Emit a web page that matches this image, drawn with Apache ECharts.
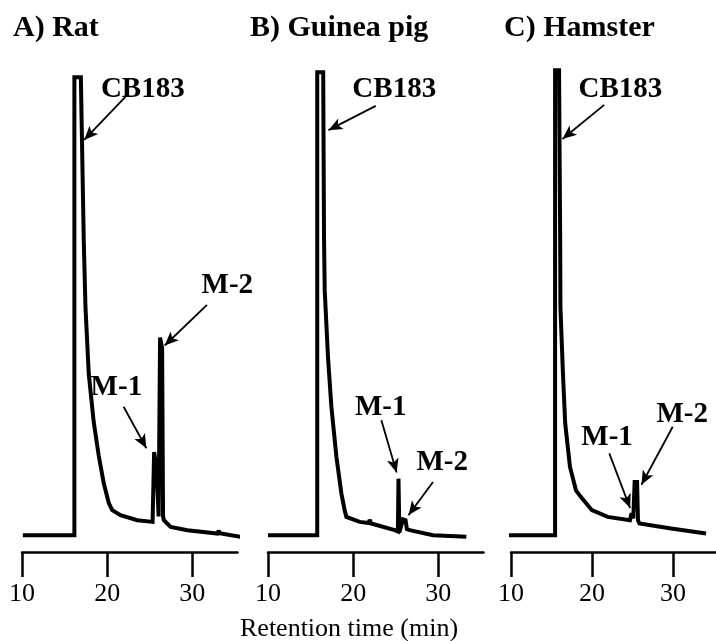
<!DOCTYPE html>
<html>
<head>
<meta charset="utf-8">
<script src="https://cdn.jsdelivr.net/npm/echarts@6/dist/echarts.min.js"></script>
<style>
    html, body { margin: 0; padding: 0; background: #fff; }
    #chart { width: 716px; height: 641px; }
</style>
</head>
<body>
<div id="chart"></div>
<script>
// x axis ticks and panel captions
var tickValues = [10, 20, 30];
var panelTitles = ['A) Rat', 'B) Guinea pig', 'C) Hamster'];
var axisTitle = 'Retention time (min)';

// A) Rat trace (retention time, detector signal; 100 = off scale)
var ratTime = [10.1, 16.15, 16.15, 16.91, 17.25, 17.45, 17.84, 18.42, 19.01, 19.6, 20.19, 20.59, 21.56, 23.53, 25.33,
    25.51, 25.8, 26.04, 26.21, 26.45, 26.56, 26.66, 27.45, 29.41, 32.94, 33.1, 33.2, 35.7];
var ratSignal = [0, 0, 98, 98, 63.1, 48.9, 34.5, 24.2, 17.0, 11.1, 6.85, 5.35, 4.28, 3.21, 2.85,
    17.8, 14.0, 4.0, 42.3, 40.0, 4.0, 3.2, 1.78, 1.07, 0.36, 1.0, 0.4, -0.36];

// B) Guinea pig trace
var pigTime = [10.0, 15.78, 15.78, 16.48, 16.58, 16.66, 17.04, 17.44, 18.03, 18.62, 19.0, 19.2, 20.77, 21.82, 21.94,
    22.12, 24.88, 25.25, 25.32, 25.42, 25.55, 25.85, 26.15, 26.3, 26.64, 29.37, 33.29];
var pigSignal = [0, 0, 99.1, 99.1, 63.1, 52.4, 38.2, 27.5, 16.8, 8.9, 5.35, 3.92, 2.85, 2.6, 3.3,
    2.5, 1.07, 0.8, 12.1, 0.6, 0.5, 3.4, 3.2, 1.3, 1.07, 0, -0.36];

// C) Hamster trace
var hamTime = [9.33, 15.44, 15.44, 15.93, 16.07, 16.1, 16.41, 16.69, 17.28, 18.02, 18.61, 19.98, 21.94, 24.68, 24.88,
    25.09, 25.26, 25.56, 25.67, 25.85, 29.76, 34.07];
var hamSignal = [0, 0, 99.5, 99.5, 63.1, 48.9, 34.6, 23.9, 14.6, 9.6, 8.2, 5.35, 3.92, 3.2, 4.7,
    3.6, 11.4, 11.4, 3.2, 2.5, 1.43, 0.36];

// peak labels: [text, label t, label v, arrow start t, v, arrow tip t, v]
var ratNotes = [
    ['CB183', 24.18, 95.3, 22.14, 93.8, 17.3, 84.6],
    ['M-1', 21.08, 31.7, 21.93, 27.5, 24.6, 18.6],
    ['M-2', 34.1, 53.5, 31.72, 49.3, 26.75, 40.6]
];
var pigNotes = [
    ['CB183', 24.82, 95.3, 22.65, 91.9, 17.1, 86.7],
    ['M-1', 23.23, 27.4, 23.31, 24.6, 25.1, 13.4],
    ['M-2', 30.45, 15.5, 29.37, 11.4, 26.5, 4.3]
];
var hamNotes = [
    ['CB183', 23.5, 95.3, 21.51, 92.1, 16.35, 84.8],
    ['M-1', 21.86, 21.0, 22.13, 17.5, 24.7, 5.8],
    ['M-2', 31.13, 25.9, 29.96, 23.2, 26.1, 10.8]
];

var serif = 'Liberation Serif';
var gridLefts = [22, 268, 511];
var traces = [[ratTime, ratSignal], [pigTime, pigSignal], [hamTime, hamSignal]];
var notes = [ratNotes, pigNotes, hamNotes];

var grids = [], xAxes = [], yAxes = [], series = [];
var titles = [];
var titleLefts = [13, 250, 504];

for (var p = 0; p < 3; p++) {
    grids.push({ left: gridLefts[p], top: 68, width: 215.5, height: 484 });
    xAxes.push({
        type: 'value',
        gridIndex: p,
        min: 10,
        max: 35.3,
        axisLine: { show: true, onZero: false, lineStyle: { color: '#000', width: 2.5 } },
        axisTick: { show: true, length: 25, customValues: tickValues, lineStyle: { color: '#000', width: 2.5 } },
        axisLabel: { customValues: tickValues, margin: 29, color: '#000', fontSize: 26, fontFamily: serif },
        splitLine: { show: false }
    });
    yAxes.push({ type: 'value', gridIndex: p, min: -3.6, max: 100, show: false });
    titles.push({
        text: panelTitles[p],
        left: titleLefts[p],
        top: 13,
        padding: 0,
        textStyle: { color: '#000', fontSize: 30, fontWeight: 'bold', fontFamily: serif }
    });

    var t = traces[p][0], s = traces[p][1];
    series.push({
        type: 'line',
        xAxisIndex: p,
        yAxisIndex: p,
        data: t.map(function (x, i) { return [x, s[i]]; }),
        symbol: 'none',
        clip: false,
        silent: true,
        lineStyle: { color: '#000', width: 4, join: 'miter', miterLimit: 2 },
        markLine: {
            silent: true,
            symbol: ['none', 'arrow'],
            symbolSize: [9, 14],
            label: { show: false },
            lineStyle: { color: '#000', width: 1.8, type: 'solid' },
            data: notes[p].map(function (n) {
                return [{ coord: [n[3], n[4]] }, { coord: [n[5], n[6]] }];
            })
        },
        markPoint: {
            silent: true,
            symbol: 'rect',
            symbolSize: 1,
            itemStyle: { color: 'rgba(0,0,0,0)' },
            label: {
                show: true,
                position: 'inside',
                formatter: '{b}',
                color: '#000',
                fontSize: 29,
                fontWeight: 'bold',
                fontFamily: serif
            },
            data: notes[p].map(function (n) {
                return { name: n[0], coord: [n[1], n[2]] };
            })
        }
    });
}

titles.push({
    text: axisTitle,
    left: 240,
    top: 616,
    padding: 0,
    textStyle: { color: '#000', fontSize: 26, fontWeight: 'normal', fontFamily: serif }
});

var myChart = echarts.init(document.getElementById('chart'));
myChart.setOption({
    animation: false,
    backgroundColor: '#fff',
    title: titles,
    grid: grids,
    xAxis: xAxes,
    yAxis: yAxes,
    series: series
});
</script>
</body>
</html>
